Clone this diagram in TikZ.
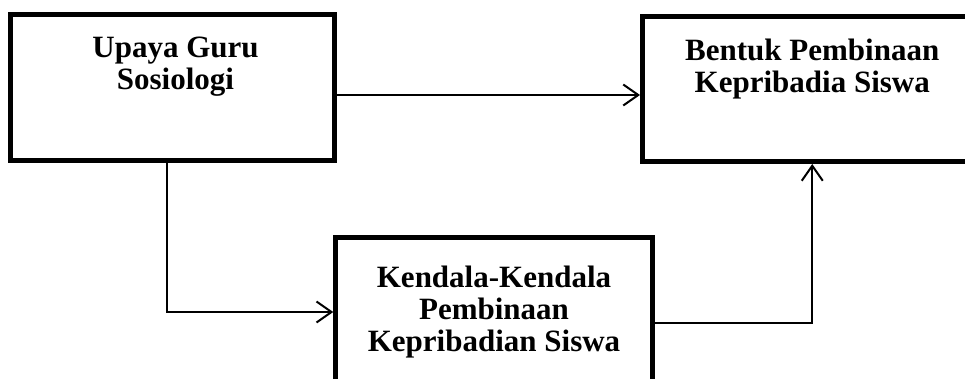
\documentclass[tikz,border=0pt]{standalone}
\usepackage{fontspec}
\setmainfont{Liberation Serif}
\usetikzlibrary{arrows.meta}
\tikzset{
  box/.style={draw=black, line width=5pt, rectangle, inner sep=0pt, outer sep=0pt, fill=none},
  txt/.style={align=center, inner sep=0pt, outer sep=0pt, anchor=north,
    font=\fontsize{31}{32}\selectfont\bfseries},
  conn/.style={draw=black, line width=2pt, -{Straight Barb[length=15pt,width=21pt,line width=2pt]}}
}
\begin{document}
\begin{tikzpicture}[x=1pt,y=-1pt]
\useasboundingbox (0,0) rectangle (965,378);
\clip (0,0) rectangle (965,378);
\fill[white] (0,0) rectangle (965,378);
% boxes
\node[box, minimum width=324pt, minimum height=146pt] (a) at (172.5,87.5) {};
\node[box, minimum width=339.5pt, minimum height=145pt] (b) at (812.25,89) {};
\node[box, minimum width=316.5pt, minimum height=149pt] (c) at (494,312) {};
% texts
\node[txt] (ta) at ([xshift=3pt,yshift=-22pt]a.north) {Upaya Guru\\Sosiologi};
\node[txt] (tb) at ([yshift=-22pt]b.north) {Bentuk Pembinaan\\Kepribadia Siswa};
\node[txt] (tc) at ([yshift=-28pt]c.north) {Kendala-Kendala\\Pembinaan\\Kepribadian Siswa};
% connectors
\draw[conn, shorten >=2.5pt] (a.east |- 0,95) -- (b.west |- 0,95);
\draw[conn, shorten >=2.5pt] ([xshift=-6pt]a.south) |- (c.west);
\draw[conn, shorten >=2.5pt] ([yshift=-11pt]c.east) -| (b.south);
\end{tikzpicture}
\end{document}
